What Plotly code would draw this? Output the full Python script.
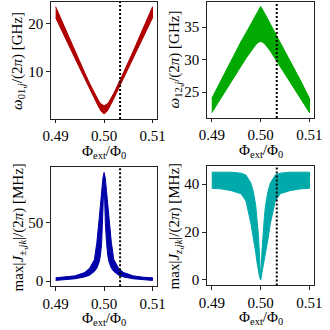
import plotly.graph_objects as go

# flux bias (fraction of flux quantum)
phi_a = [0.490, 0.492, 0.494, 0.496, 0.497, 0.498, 0.499, 0.4995, 0.500,
         0.5005, 0.501, 0.502, 0.503, 0.504, 0.506, 0.508, 0.510]
phi_b = [0.490, 0.492, 0.494, 0.496, 0.497, 0.498, 0.4985, 0.499, 0.49925, 0.4995,
         0.49975, 0.500, 0.50025, 0.5005, 0.50075, 0.501, 0.5015, 0.502, 0.503,
         0.504, 0.506, 0.508, 0.510]

# omega_01 / 2pi [GHz] band
w01_hi = [23.6, 18.9, 14.3, 9.8, 7.6, 5.5, 3.7, 3.2, 2.9,
          3.2, 3.7, 5.5, 7.6, 9.8, 14.3, 18.9, 23.6]
w01_lo = [21.3, 17.0, 12.8, 8.6, 6.5, 4.4, 2.4, 1.6, 1.2,
          1.6, 2.4, 4.4, 6.5, 8.6, 12.8, 17.0, 21.3]

# omega_12 / 2pi [GHz] band
w12_hi = [24.0, 27.0, 29.9, 32.8, 34.1, 35.5, 36.9, 37.6, 38.2,
          37.6, 36.9, 35.5, 34.1, 32.8, 29.9, 27.0, 24.0]
w12_lo = [21.8, 24.2, 26.6, 29.0, 30.2, 31.3, 32.3, 32.65, 32.8,
          32.65, 32.3, 31.3, 30.2, 29.0, 26.6, 24.2, 21.8]

# max |J_pm| / 2pi [MHz] band
jpm_hi = [2.8, 3.4, 4.5, 7.4, 11.0, 18.5, 33.0, 54.0, 66.0, 77.0, 88.0, 93.0,
          88.0, 77.0, 66.0, 54.0, 33.0, 18.5, 11.0, 7.4, 4.5, 3.4, 2.8]
jpm_lo = [0.6, 1.2, 2.0, 3.6, 5.1, 8.3, 11.0, 16.5, 22.0, 33.0, 50.0, 88.0,
          50.0, 33.0, 22.0, 16.5, 11.0, 8.3, 5.1, 3.6, 2.0, 1.2, 0.6]

# max |J_z| / 2pi [MHz] band
jz_hi = [45.0, 45.0, 45.0, 44.6, 43.8, 40.5, 37.0, 31.0, 26.0, 20.0, 11.0, 0.0,
         11.0, 20.0, 26.0, 31.0, 37.0, 40.5, 43.8, 44.6, 45.0, 45.0, 45.0]
jz_lo = [38.3, 38.0, 37.3, 36.0, 33.0, 23.7, 17.0, 11.3, 7.5, 4.0, 1.5, 0.0,
         1.5, 4.0, 7.5, 11.3, 17.0, 23.7, 33.0, 36.0, 37.3, 38.0, 38.3]

phi_op = 0.5033
x_ticks = [0.49, 0.50, 0.51]
x_ticklabels = ["0.49", "0.50", "0.51"]

FONT = "Liberation Serif, DejaVu Serif, serif"
W = 330

panels = [
    # x, hi, lo, colour, domain x px, domain y px, y range, y ticks, title
    (phi_a, w01_hi, w01_lo, "#b00000", (45, 157), (2, 120), [0.15, 24.6], [10, 20],
     "<i>ω</i><sub>01,<i>j</i></sub>/(2<i>π</i>) [GHz]"),
    (phi_a, w12_hi, w12_lo, "#00aa00", (209, 322), (2, 119), [21.0, 38.9], [25, 30, 35],
     "<i>ω</i><sub>12,<i>j</i></sub>/(2<i>π</i>) [GHz]"),
    (phi_b, jpm_hi, jpm_lo, "#0000a8", (45, 157), (169, 289), [-4.5, 97.3], [0, 50],
     "max|<i>J</i><sub>±,<i>jk</i></sub>|/(2<i>π</i>) [MHz]"),
    (phi_b, jz_hi, jz_lo, "#00aaaa", (209, 322), (168, 288), [-2.3, 47.4], [0, 20, 40],
     "max|<i>J</i><sub><i>z</i>,<i>jk</i></sub>|/(2<i>π</i>) [MHz]"),
]

fig = go.Figure()
layout = dict(
    width=W, height=W,
    margin=dict(l=0, r=0, t=0, b=0),
    paper_bgcolor="white", plot_bgcolor="white",
    showlegend=False,
    font=dict(family=FONT, size=15, color="black"),
)
annotations = []
shapes = []

for i, (xs, hi, lo, col, dx, dy, yr, yt, ttl) in enumerate(panels):
    n = "" if i == 0 else str(i + 1)
    xa, ya = "x" + n, "y" + n
    fig.add_trace(go.Scatter(
        x=xs + xs[::-1], y=hi + lo[::-1],
        xaxis=xa, yaxis=ya, mode="lines", fill="toself",
        fillcolor=col, line=dict(color=col, width=1),
        hoverinfo="skip",
    ))
    axis_common = dict(
        showgrid=False, zeroline=False, showline=True, mirror=True,
        linecolor="#222", linewidth=1.1, ticks="outside", ticklen=3.5,
        tickwidth=1, tickcolor="#222",
        tickfont=dict(family=FONT, size=15, color="black"),
    )
    layout["xaxis" + n] = dict(
        axis_common, domain=[dx[0] / W, dx[1] / W], range=[0.489, 0.511],
        tickvals=x_ticks, ticktext=x_ticklabels, anchor=ya,
    )
    layout["yaxis" + n] = dict(
        axis_common, domain=[1 - dy[1] / W, 1 - dy[0] / W], range=yr,
        tickvals=yt, anchor=xa,
    )
    shapes.append(dict(
        type="line", xref=xa, yref=ya + " domain", x0=phi_op, x1=phi_op,
        y0=0, y1=1, line=dict(color="black", width=2, dash="2px,2px"),
    ))
    # y title
    annotations.append(dict(
        text=ttl, textangle=-90, xref="paper", yref="paper",
        x=(dx[0] - 34) / W, y=1 - (dy[0] + dy[1]) / 2 / W,
        xanchor="center", yanchor="middle", showarrow=False,
        font=dict(family=FONT, size=15, color="black"),
    ))
    # x title
    annotations.append(dict(
        text="Φ<sub>ext</sub>/Φ<sub>0</sub>", xref="paper", yref="paper",
        x=(dx[0] + dx[1]) / 2 / W, y=1 - (dy[1] + 33) / W,
        xanchor="center", yanchor="middle", showarrow=False,
        font=dict(family=FONT, size=15, color="black"),
    ))

layout["annotations"] = annotations
layout["shapes"] = shapes
fig.update_layout(**layout)
fig.write_html("out.html", config={"displayModeBar": False},
               post_script="document.body.style.margin='0';")
